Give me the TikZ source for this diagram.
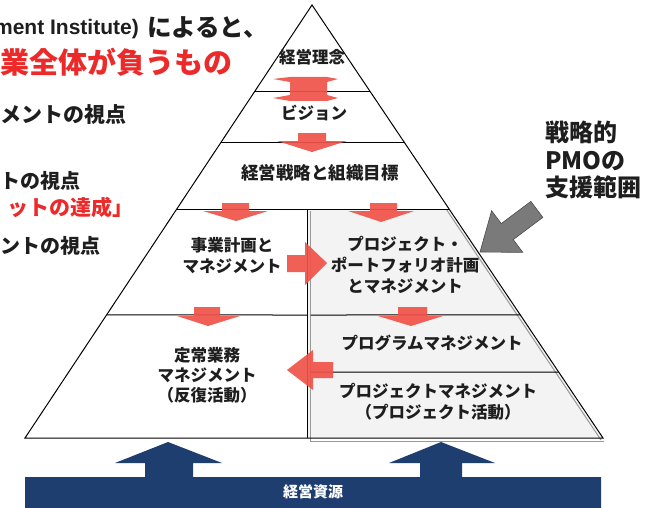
\documentclass[tikz,border=0pt]{standalone}
\usepackage{fontspec}
\setmainfont{Noto Sans CJK JP}
\newfontfamily\latfont{Liberation Sans}
\usetikzlibrary{calc}
\definecolor{arrred}{RGB}{240,82,72}
\definecolor{navyblue}{RGB}{30,62,112}
\definecolor{pmogray}{RGB}{122,122,122}
\definecolor{regiongray}{RGB}{243,243,243}
\definecolor{txt}{RGB}{30,30,30}
\definecolor{redtxt}{RGB}{236,42,42}
\begin{document}
\begin{tikzpicture}[x=1pt,y=-1pt,
  lab/.style={font=\bfseries\fontsize{16.5}{21}\selectfont, text=txt, align=center, inner sep=0pt},
  side/.style={font=\bfseries\fontsize{20}{24}\selectfont, text=txt, anchor=west, inner sep=0pt},
  redarrow/.style={fill=arrred, draw=none, opacity=0.92},
  edge/.style={draw=black, line width=1pt},
  grayedge/.style={draw=gray!80, line width=1pt}]
\useasboundingbox (0,0) rectangle (658,508);
\clip (0,0) rectangle (658,508);

% pyramid corners
\coordinate (apex) at (312,5);
\coordinate (bl) at (25,438);
\coordinate (br) at (603,438);

% shaded PMO region
\fill[regiongray] (308,210) -- ($(apex)!0.4734!(br)$) -- (br) -- (308,438) -- cycle;
\draw[grayedge] ($(apex)!0.4734!(br)+(-3,0)$) -- ($(br)+(-2,2)$);
\draw[grayedge] (310.5,211) -- (310.5,441) -- (604,441);

% pyramid outline
\draw[edge] (bl) -- (apex) -- (br) -- cycle;
% level lines
\draw[edge] ($(apex)!0.2009!(bl)$) -- ($(apex)!0.2009!(br)$);
\draw[edge] ($(apex)!0.3164!(bl)$) -- ($(apex)!0.3164!(br)$);
\draw[edge] ($(apex)!0.4734!(bl)$) -- ($(apex)!0.4734!(br)$);
\draw[edge] ($(apex)!0.7159!(bl)$) -- (307,315);
\draw[edge] (310.5,315) -- ($(apex)!0.7159!(br)$);
\draw[edge] (310.5,372) -- ($(apex)!0.8476!(br)$);
\draw[edge] (307,210) -- (307,438);

% red arrows
\fill[redarrow] (273,79) -- (290,77) -- (327,77) -- (338,79) -- (327,82) -- (327,95) -- (338,98) -- (327,101) -- (290,101) -- (273,98) -- (290,95) -- (290,82) -- cycle;
\fill[redarrow] (298,133) -- (326,133) -- (326,141) -- (347,141) -- (312,152) -- (277,141) -- (298,141) -- cycle;
\fill[redarrow] (222,203) -- (249,203) -- (249,211) -- (268,211) -- (236,221) -- (203,211) -- (222,211) -- cycle;
\fill[redarrow] (370,203) -- (397,203) -- (397,211) -- (414,211) -- (381,222) -- (348,211) -- (370,211) -- cycle;
\fill[redarrow] (194,307) -- (220,307) -- (220,316) -- (240,316) -- (208,326) -- (177,316) -- (194,316) -- cycle;
\fill[redarrow] (398,307) -- (427,307) -- (427,316) -- (443,316) -- (411,326) -- (378,316) -- (398,316) -- cycle;
\fill[redarrow] (287,255) -- (305,255) -- (305,242) -- (327,263) -- (305,285) -- (305,272) -- (287,272) -- cycle;
\fill[redarrow] (333,362) -- (313,362) -- (313,350) -- (287,370) -- (313,390) -- (313,378) -- (333,378) -- cycle;

% navy resource bar with two up arrows
\fill[navyblue] (25,477) -- (145,477) -- (145,463) -- (115,463) -- (168,442) -- (222,463) -- (193,463) -- (193,477)
  -- (420,477) -- (420,463) -- (389,463) -- (441,442) -- (495,463) -- (462,463) -- (462,477)
  -- (601,477) -- (601,512) -- (25,512) -- cycle;
\node[font=\bfseries\fontsize{15}{18}\selectfont, text=white, inner sep=0pt] (res) at (313,492) {経営資源};

% gray PMO arrow
\fill[pmogray, draw=gray!60!black, line width=0.6pt] (480,252) -- (522.8,252.4) -- (513.2,239.6) -- (542.8,217.4) -- (530.8,201.4) -- (501.2,223.6) -- (491.6,210.8) -- cycle;

% pyramid labels
\node[lab] (rinen) at (312,57) {経営理念};
\node[lab] (vision) at (314,113) {ビジョン};
\node[lab, font=\bfseries\fontsize{17.5}{21}\selectfont] (senryaku) at (320,173) {経営戦略と組織目標};
\node[lab] (jigyo) at (232,256) {事業計画と\\マネジメント};
\node[lab] (ppm) at (405,265) {プロジェクト・\\ポートフォリオ計画\\とマネジメント};
\node[lab] (prog) at (432,343) {プログラムマネジメント};
\node[lab] (proj) at (438,402) {プロジェクトマネジメント\\（プロジェクト活動）};
\node[lab, font=\bfseries\fontsize{16.5}{20}\selectfont] (teijo) at (207,375) {定常業務\\マネジメント\\（反復活動）};

% PMO caption
\node[font=\bfseries\fontsize{24}{27.5}\selectfont, text=txt, align=left, anchor=north west, inner sep=0pt] (pmo) at (545,121) {戦略的\\PMOの\\支援範囲};

% left texts (cut off at picture edge)
\node[font=\latfont\bfseries\fontsize{21}{24}\selectfont, text=txt, anchor=east, inner sep=0pt] (l1a) at (139,29.5) {ment Institute)};
\node[font=\bfseries\fontsize{24.5}{28}\selectfont, text=txt, anchor=west, inner sep=0pt] (l1b) at (147,27) {によると、};
\node[font=\bfseries\fontsize{29}{32}\selectfont, text=redtxt, anchor=west, inner sep=0pt] (l2) at (0,62) {業全体が負うもの};
\node[side, font=\bfseries\fontsize{21}{24}\selectfont] (l3) at (0,115) {メントの視点};
\node[side] (l4) at (0,181) {トの視点};
\node[side, text=redtxt, font=\bfseries\fontsize{21}{24}\selectfont] (l5) at (7,207) {ットの達成」};
\node[side] (l6) at (0,246) {ントの視点};
\end{tikzpicture}
\end{document}
